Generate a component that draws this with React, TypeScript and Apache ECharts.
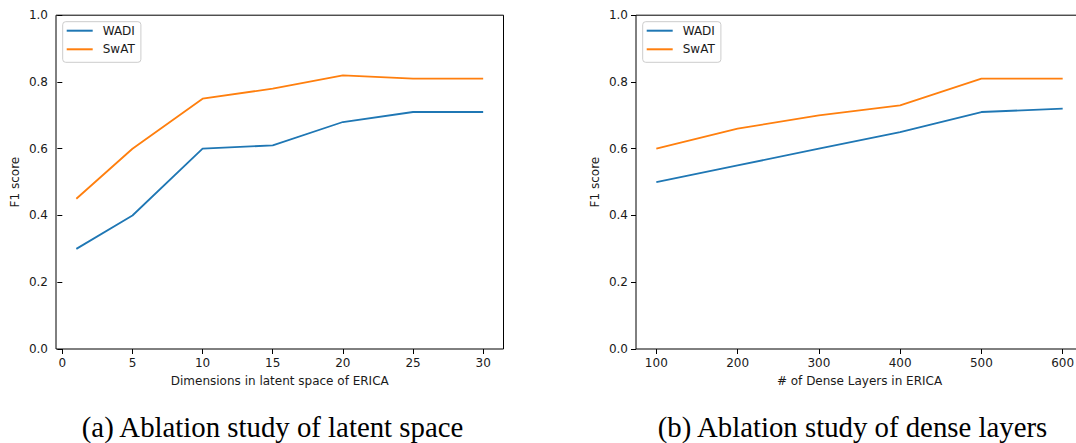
import React, { useEffect, useRef } from "react";
import * as echarts from "echarts";

const latentDims = [1, 5, 10, 15, 20, 25, 30];
const latentWADI = [0.3, 0.4, 0.6, 0.61, 0.68, 0.71, 0.71];
const latentSwAT = [0.45, 0.6, 0.75, 0.78, 0.82, 0.81, 0.81];
const latentTicks = [0, 5, 10, 15, 20, 25, 30];

const denseLayers = [100, 200, 300, 400, 500, 600];
const denseWADI = [0.5, 0.55, 0.6, 0.65, 0.71, 0.72];
const denseSwAT = [0.6, 0.66, 0.7, 0.73, 0.81, 0.81];
const denseTicks = [100, 200, 300, 400, 500, 600];

const seriesNames = ["WADI", "SwAT"];
const captions = [
  "(a) Ablation study of latent space",
  "(b) Ablation study of dense layers",
];
const xNames = ["Dimensions in latent space of ERICA", "# of Dense Layers in ERICA"];
const yName = "F1 score";

const BLUE = "#1f77b4";
const ORANGE = "#ff7f0e";
const FONT = "DejaVu Sans";
const TXT = "#1a1a1a";

const zip = (xs: number[], ys: number[]) => xs.map((x, i) => [x, ys[i]]);

export default function App() {
  const ref = useRef<HTMLDivElement>(null);
  useEffect(() => {
    if (!ref.current) return;
    const chart = echarts.init(ref.current, undefined, { renderer: "svg" });
    const grids = [
      { left: 56, top: 15.2, width: 447.5, height: 333.8 },
      { left: 636, top: 15.2, width: 447, height: 333.8 },
    ];
    const xAxis = (i: number, min: number, max: number, ticks: number[]) => ({
      type: "value",
      gridIndex: i,
      min,
      max,
      name: xNames[i],
      nameLocation: "middle",
      nameGap: 26,
      nameTextStyle: { fontFamily: FONT, fontSize: 12, color: TXT },
      axisLine: { show: false },
      axisTick: {
        show: true,
        inside: false,
        length: 5,
        lineStyle: { color: "#000", width: 1 },
        customValues: ticks,
      },
      axisLabel: {
        customValues: ticks,
        margin: 8,
        fontFamily: FONT,
        fontSize: 12,
        color: TXT,
      },
      splitLine: { show: false },
    });
    const yAxis = (i: number) => ({
      type: "value",
      gridIndex: i,
      min: 0,
      max: 1,
      interval: 0.2,
      name: yName,
      nameLocation: "middle",
      nameGap: 35,
      nameTextStyle: { fontFamily: FONT, fontSize: 12, color: TXT },
      axisLine: { show: false },
      axisTick: { show: true, inside: false, length: 5, lineStyle: { color: "#000", width: 1 } },
      axisLabel: {
        margin: 8,
        fontFamily: FONT,
        fontSize: 12,
        color: TXT,
        formatter: (v: number) => v.toFixed(1),
      },
      splitLine: { show: false },
    });
    const legend = (left: number) => ({
      orient: "vertical",
      left,
      top: 21.7,
      padding: [2, 6, 6, 4],
      itemWidth: 26,
      itemHeight: 2,
      itemGap: 4.6,
      icon: "rect",
      backgroundColor: "rgba(255,255,255,0.8)",
      borderColor: "#cccccc",
      borderWidth: 1,
      borderRadius: 3,
      textStyle: {
        fontFamily: FONT,
        fontSize: 12,
        color: TXT,
        lineHeight: 14,
        padding: [0, 0, 0, 5],
      },
      data: seriesNames,
    });
    const line = (name: string, color: string, data: number[][], i: number) => ({
      type: "line",
      name,
      xAxisIndex: i,
      yAxisIndex: i,
      data,
      showSymbol: false,
      symbol: "none",
      lineStyle: { color, width: 1.8 },
      itemStyle: { color },
      z: 3,
    });
    chart.setOption({
      animation: false,
      grid: grids.map((g) => ({
        ...g,
        show: true,
        outerBoundsMode: "none",
        containLabel: false,
        borderColor: "#000",
        borderWidth: 1,
        backgroundColor: "transparent",
      })),
      xAxis: [xAxis(0, -0.45, 31.45, latentTicks), xAxis(1, 75, 625, denseTicks)],
      yAxis: [yAxis(0), yAxis(1)],
      legend: [legend(62.7), legend(642.7)].map((l, k) => ({ ...l, id: "lg" + k })),
      series: [
        line(seriesNames[0], BLUE, zip(latentDims, latentWADI), 0),
        line(seriesNames[1], ORANGE, zip(latentDims, latentSwAT), 0),
        line(seriesNames[0], BLUE, zip(denseLayers, denseWADI), 1),
        line(seriesNames[1], ORANGE, zip(denseLayers, denseSwAT), 1),
      ],
      graphic: captions.map((t, i) => ({
        type: "text",
        x: i === 0 ? 272.5 : 852.5,
        y: 427,
        style: {
          text: t,
          fontFamily: "Liberation Serif",
          fontSize: 28.8,
          fill: "#000",
          align: "center",
          verticalAlign: "middle",
        },
      })),
    });
    return () => chart.dispose();
  }, []);
  return (
    <div style={{ position: "fixed", left: 0, top: 0, width: 1076, height: 443, overflow: "hidden", background: "#fff" }}>
      <div ref={ref} style={{ width: 1076, height: 443 }} />
    </div>
  );
}
